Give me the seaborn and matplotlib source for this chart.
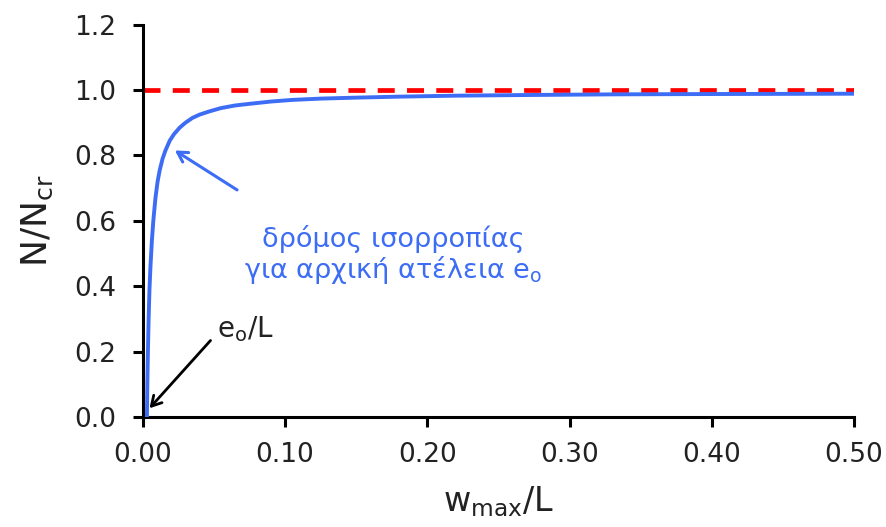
import matplotlib
matplotlib.use("Agg")
import matplotlib.pyplot as plt
import seaborn as sns
import pandas as pd

# Equilibrium path
w_over_L = [0.0030, 0.0033, 0.0037, 0.0042, 0.0048, 0.0055, 0.0065, 0.0075, 0.0090,
            0.0105, 0.012, 0.014, 0.016, 0.019, 0.022, 0.026, 0.030, 0.035, 0.040,
            0.047, 0.055, 0.065, 0.075, 0.090, 0.105, 0.125, 0.15, 0.18, 0.22,
            0.27, 0.33, 0.40, 0.50]
n_over_ncr = [0.0, 0.10, 0.20, 0.30, 0.39, 0.46, 0.54, 0.60, 0.67,
              0.72, 0.755, 0.79, 0.815, 0.845, 0.865, 0.885, 0.90, 0.915, 0.925,
              0.935, 0.945, 0.953, 0.958, 0.965, 0.970, 0.974, 0.977, 0.980, 0.983,
              0.985, 0.987, 0.988, 0.989]
# Critical load reference line
ref_x = [0.0, 0.5]
ref_y = [1.0, 1.0]

x_ticks = [0.0, 0.1, 0.2, 0.3, 0.4, 0.5]
x_tick_labels = ["0.00", "0.10", "0.20", "0.30", "0.40", "0.50"]
y_ticks = [0.0, 0.2, 0.4, 0.6, 0.8, 1.0, 1.2]
y_tick_labels = ["0.0", "0.2", "0.4", "0.6", "0.8", "1.0", "1.2"]

sns.set_style("white")
plt.rcParams['font.family'] = ['DejaVu Sans']
plt.rcParams['mathtext.default'] = 'regular'

blue = "#3d6cf5"
red = "#ff0000"
txt = "#222222"

fig, ax = plt.subplots(figsize=(8.86, 5.27), dpi=100)
fig.subplots_adjust(left=0.161, right=0.964, top=0.953, bottom=0.209)

df_curve = pd.DataFrame({"w": w_over_L, "n": n_over_ncr})
df_ref = pd.DataFrame({"w": ref_x, "n": ref_y})

sns.lineplot(data=df_ref, x="w", y="n", ax=ax, color=red, linewidth=3.4,
             linestyle=(0, (3.6, 2.6)), zorder=2)
sns.lineplot(data=df_curve, x="w", y="n", ax=ax, color=blue, linewidth=2.8,
             sort=False, zorder=3)

ax.set_xlim(0, 0.5)
ax.set_ylim(0, 1.2)
ax.set_xticks(x_ticks)
ax.set_xticklabels(x_tick_labels)
ax.set_yticks(y_ticks)
ax.set_yticklabels(y_tick_labels)
ax.tick_params(axis="both", which="major", labelsize=19, colors="black",
               length=7, width=2.2, direction="out", labelcolor=txt,
               bottom=True, left=True)
ax.tick_params(axis="x", pad=11)
ax.tick_params(axis="y", pad=12)
for side in ["top", "right"]:
    ax.spines[side].set_visible(False)
for side in ["left", "bottom"]:
    ax.spines[side].set_color("black")
    ax.spines[side].set_linewidth(2.2)

ax.set_xlabel("w$_{max}$/L", fontsize=24, labelpad=12, color=txt)
ax.set_ylabel("N/N$_{cr}$", fontsize=26, labelpad=14, color=txt)

ax.annotate("", xy=(0.021, 0.82), xytext=(0.068, 0.69),
            arrowprops=dict(arrowstyle="->,head_length=0.7,head_width=0.4",
                            color=blue, lw=2.2))
ax.text(0.176, 0.495, "δρόμος ισορροπίας\nγια αρχική ατέλεια e$_{o}$",
        color=blue, fontsize=19.5, ha="center", va="center", linespacing=1.05)

ax.annotate("", xy=(0.0035, 0.02), xytext=(0.049, 0.24),
            arrowprops=dict(arrowstyle="->,head_length=0.7,head_width=0.4",
                            color="black", lw=2))
ax.text(0.072, 0.268, "e$_{o}$/L", color=txt, fontsize=20,
        ha="center", va="center")

fig.savefig("out.png", dpi=100)
